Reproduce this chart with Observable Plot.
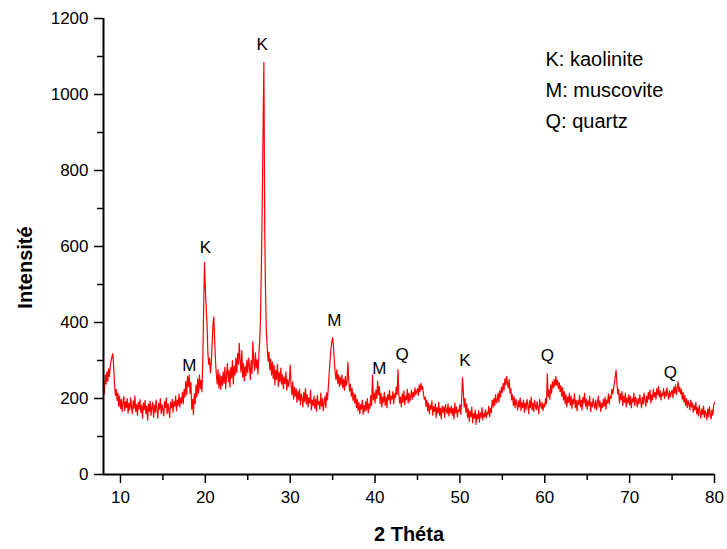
<!DOCTYPE html>
<html>
<head>
<meta charset="utf-8">
<script src="https://cdn.jsdelivr.net/npm/d3@7"></script>
<script src="https://cdn.jsdelivr.net/npm/@observablehq/plot@0.6"></script>
<style>
  html, body { margin: 0; padding: 0; background: #fff; }
  #chart svg { display: block; }
</style>
</head>
<body>
<div id="chart"></div>
<script>
// 2θ grid of the scan (degrees)
const startAngle = 8.0;
const angleStep = 0.1;

const intensity = [
  235, 212, 262, 238, 270, 245, 278, 258, 286, 300, // 8
  310, 318, 282, 236, 208, 224, 195, 214, 180, 206, // 9
  174, 198, 166, 190, 205, 168, 192, 176, 200, 162, // 10
  188, 170, 202, 178, 160, 194, 174, 206, 166, 184, // 11
  156, 190, 172, 197, 163, 182, 148, 188, 170, 195, // 12
  160, 180, 143, 186, 166, 193, 156, 176, 190, 150, // 13
  182, 164, 196, 170, 148, 187, 172, 199, 160, 184, // 14
  170, 154, 192, 176, 202, 160, 186, 170, 150, 190, // 15
  176, 198, 164, 192, 180, 206, 168, 196, 182, 212, // 16
  178, 202, 188, 216, 186, 224, 204, 245, 210, 258, // 17
  232, 262, 214, 242, 172, 198, 158, 212, 186, 235, // 18
  204, 252, 214, 262, 226, 248, 218, 300, 430, 558, // 19
  490, 440, 395, 320, 290, 306, 268, 292, 345, 395, // 20
  414, 352, 298, 262, 238, 276, 228, 264, 224, 258, // 21
  234, 270, 240, 282, 226, 264, 292, 244, 274, 230, // 22
  282, 254, 300, 238, 286, 262, 306, 268, 318, 290, // 23
  345, 298, 270, 326, 256, 292, 246, 284, 260, 302, // 24
  268, 306, 284, 250, 300, 266, 350, 298, 274, 320, // 25
  280, 302, 264, 312, 350, 410, 540, 700, 900, 1085, // 26
  640, 470, 372, 332, 298, 322, 276, 304, 262, 296, // 27
  252, 288, 236, 274, 250, 290, 232, 268, 244, 280, // 28
  238, 262, 226, 256, 240, 270, 222, 250, 232, 246, // 29
  288, 236, 210, 244, 198, 230, 206, 226, 190, 218, // 30
  196, 224, 184, 212, 200, 178, 216, 192, 226, 186, // 31
  210, 178, 202, 188, 222, 170, 196, 182, 206, 174, // 32
  198, 166, 208, 184, 192, 172, 214, 180, 200, 168, // 33
  190, 206, 176, 215, 196, 232, 268, 302, 328, 348, // 34
  360, 338, 298, 268, 250, 276, 240, 262, 232, 256, // 35
  236, 262, 228, 250, 222, 258, 234, 246, 295, 248, // 36
  220, 238, 206, 226, 195, 214, 188, 210, 176, 198, // 37
  168, 190, 160, 184, 172, 196, 158, 182, 166, 192, // 38
  170, 200, 162, 186, 174, 208, 182, 262, 196, 214, // 39
  188, 222, 200, 245, 210, 232, 186, 214, 178, 204, // 40
  190, 216, 182, 204, 176, 210, 196, 222, 186, 206, // 41
  198, 218, 186, 212, 202, 230, 210, 276, 212, 188, // 42
  204, 178, 212, 190, 220, 184, 206, 196, 224, 188, // 43
  214, 192, 206, 222, 198, 216, 204, 228, 210, 218, // 44
  226, 208, 236, 218, 240, 224, 232, 212, 198, 204, // 45
  180, 196, 168, 188, 160, 182, 172, 194, 156, 178, // 46
  166, 186, 150, 176, 162, 190, 156, 174, 146, 180, // 47
  164, 178, 150, 184, 168, 160, 186, 154, 176, 162, // 48
  180, 156, 174, 146, 188, 162, 178, 152, 170, 166, // 49
  184, 158, 196, 255, 220, 178, 200, 164, 186, 150, // 50
  172, 140, 166, 152, 178, 136, 160, 148, 170, 132, // 51
  158, 146, 168, 138, 162, 150, 176, 144, 160, 152, // 52
  170, 148, 164, 158, 180, 152, 174, 162, 196, 178, // 53
  200, 182, 210, 188, 196, 214, 190, 220, 204, 230, // 54
  216, 240, 222, 252, 236, 258, 240, 228, 250, 214, // 55
  226, 196, 210, 182, 204, 176, 198, 186, 170, 194, // 56
  178, 202, 168, 190, 176, 196, 164, 188, 172, 198, // 57
  182, 160, 194, 176, 204, 170, 188, 166, 196, 180, // 58
  170, 192, 176, 160, 198, 182, 174, 190, 168, 186, // 59
  178, 200, 186, 265, 204, 222, 198, 236, 214, 244, // 60
  228, 250, 232, 258, 236, 248, 226, 242, 218, 234, // 61
  206, 228, 196, 218, 186, 210, 178, 204, 190, 214, // 62
  182, 206, 174, 198, 186, 212, 176, 196, 168, 194, // 63
  184, 208, 178, 196, 170, 204, 188, 214, 180, 198, // 64
  172, 194, 182, 206, 166, 190, 178, 200, 186, 174, // 65
  196, 170, 188, 206, 178, 194, 166, 188, 176, 198, // 66
  180, 204, 172, 196, 188, 212, 186, 206, 200, 224, // 67
  212, 226, 240, 256, 275, 240, 212, 224, 188, 212, // 68
  196, 218, 182, 206, 190, 214, 178, 202, 188, 210, // 69
  184, 206, 176, 200, 190, 214, 182, 204, 194, 178, // 70
  200, 186, 210, 192, 176, 204, 186, 214, 196, 180, // 71
  206, 190, 216, 198, 222, 188, 210, 196, 224, 204, // 72
  216, 198, 226, 210, 232, 204, 220, 196, 214, 208, // 73
  226, 200, 218, 206, 228, 212, 198, 220, 204, 214, // 74
  222, 202, 230, 214, 236, 210, 226, 244, 218, 230, // 75
  212, 224, 198, 216, 190, 208, 182, 200, 176, 194, // 76
  184, 170, 196, 178, 188, 164, 182, 170, 190, 160, // 77
  176, 154, 182, 166, 148, 172, 158, 180, 150, 168, // 78
  160, 144, 172, 152, 178, 158, 146, 170, 156, 182, // 79
  190                                               // 80
];

// Peak annotations
const peakLabels  = ["M", "K", "K", "M", "M", "Q", "K", "Q", "Q"];
const peakAngles  = [18.1, 20.0, 26.7, 35.2, 40.5, 43.2, 50.6, 60.3, 74.8];
const labelLevels = [287, 597, 1132, 405, 279, 316, 300, 313, 268];

// Legend text
const legendLines = ["K: kaolinite", "M: muscovite", "Q: quartz"];

// Axis ticks
const xMajorTicks = [10, 20, 30, 40, 50, 60, 70, 80];
const xMinorTicks = [15, 25, 35, 45, 55, 65, 75];
const yMajorTicks = [0, 200, 400, 600, 800, 1000, 1200];
const yMinorTicks = [100, 300, 500, 700, 900, 1100];

const scan = intensity.map((v, i) => ({
  angle: Math.round((startAngle + i * angleStep) * 10) / 10,
  intensity: v
}));
const peaks = peakLabels.map((t, i) => ({label: t, angle: peakAngles[i], level: labelLevels[i]}));

const font = "'Liberation Sans', Arial, Helvetica, sans-serif";

const chart = Plot.plot({
  width: 727,
  height: 549,
  marginLeft: 103,
  marginRight: 13,
  marginTop: 18,
  marginBottom: 75,
  style: {fontFamily: font, fontSize: "17px", color: "#000", background: "#fff"},
  x: {domain: [8, 80]},
  y: {domain: [0, 1200]},
  marks: [
    Plot.line(scan, {x: "angle", y: "intensity", stroke: "#ff0000", strokeWidth: 1.2}),
    Plot.axisX({ticks: xMajorTicks, tickSize: 9, tickPadding: 7, tickFormat: d => String(d), fontSize: 17, label: null, strokeWidth: 1.5}),
    Plot.axisX({ticks: xMinorTicks, tickSize: 6, text: null, label: null, strokeWidth: 1.5}),
    Plot.axisY({ticks: yMajorTicks, tickSize: 9, tickPadding: 6, tickFormat: d => String(d), fontSize: 17, label: null, strokeWidth: 1.5}),
    Plot.axisY({ticks: yMinorTicks, tickSize: 6, text: null, label: null, strokeWidth: 1.5}),
    Plot.ruleX([8], {stroke: "#000", strokeWidth: 2}),
    Plot.ruleY([0], {stroke: "#000", strokeWidth: 2}),
    Plot.text(peaks, {x: "angle", y: "level", text: "label", fontSize: 17, fill: "#000"}),
    Plot.text([legendLines.join("\n")], {
      frameAnchor: "top-left", dx: 442, dy: 25, text: d => d,
      textAnchor: "start", lineAnchor: "top", lineHeight: 1.55, fontSize: 20, fill: "#000"
    }),
    Plot.text(["Intensité"], {
      frameAnchor: "left", dx: -78, dy: 21, rotate: -90, text: d => d,
      textAnchor: "middle", lineAnchor: "middle",
      fontSize: 20, fontWeight: "bold", fill: "#000"
    }),
    Plot.text(["2 Théta"], {
      frameAnchor: "bottom", dy: 60, text: d => d,
      textAnchor: "middle", lineAnchor: "middle",
      fontSize: 20, fontWeight: "bold", fill: "#000"
    })
  ]
});

document.getElementById("chart").appendChild(chart);
</script>
</body>
</html>
